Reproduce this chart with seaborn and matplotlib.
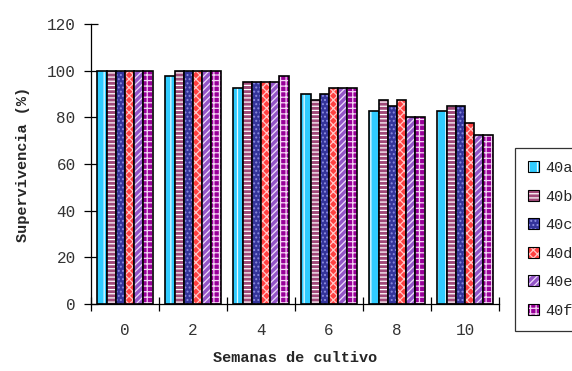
import matplotlib
matplotlib.use("Agg")
import matplotlib.pyplot as plt
import matplotlib.colors as mcolors
import seaborn as sns
import pandas as pd
import numpy as np

# Survival (%) per line across weeks of culture
weeks = [0, 2, 4, 6, 8, 10]
lines = ["40a", "40b", "40c", "40d", "40e", "40f"]
surv_40a = [100, 97.5, 92.5, 90, 82.5, 82.5]
surv_40b = [100, 100, 95, 87.5, 87.5, 85]
surv_40c = [100, 100, 95, 90, 85, 85]
surv_40d = [100, 100, 95, 92.5, 87.5, 77.5]
surv_40e = [100, 100, 95, 92.5, 80, 72.5]
surv_40f = [100, 100, 97.5, 92.5, 80, 72.5]

yticks = [0, 20, 40, 60, 80, 100, 120]

series = [surv_40a, surv_40b, surv_40c, surv_40d, surv_40e, surv_40f]
df = pd.DataFrame(
    [(w, ln, v) for ln, vals in zip(lines, series) for w, v in zip(weeks, vals)],
    columns=["week", "line", "value"],
)

# fill colour, hatch pattern, hatch colour per line
styles = {
    "40a": ("#30CCFF", "||", "#E8FAFF"),
    "40b": ("#A04878", "----", "#FFFFFF"),
    "40c": ("#34349A", "....", "#8C8CE0"),
    "40d": ("#FF4040", "xxxx", "#FFC8C8"),
    "40e": ("#9455C8", "/////", "#EEDDFA"),
    "40f": ("#990099", "+++", "#F4D4F4"),
}

sns.set_theme(style="white")
plt.rcParams["hatch.linewidth"] = 0.9
mono = ["Liberation Mono", "DejaVu Sans Mono"]

fig = plt.figure(figsize=(5.72, 3.71), dpi=100)
ax = fig.add_axes([91 / 572, 67 / 371, 408 / 572, 280 / 371])

sns.barplot(
    data=df, x="week", y="value", hue="line", hue_order=lines,
    palette=[styles[l][0] for l in lines], width=0.81, dodge=True,
    edgecolor="black", linewidth=1.2, saturation=1, ax=ax,
)

for ln, cont in zip(lines, ax.containers):
    face, hatch, hcol = styles[ln]
    for p in cont.patches:
        p.set_facecolor(face)
        p.set_edgecolor("black")
        p.set_hatch(hatch)
        p._hatch_color = mcolors.to_rgba(hcol)

ax.get_legend().remove()

ax.set_ylim(0, 120)
ax.set_xlim(-0.5, 5.5)
ax.set_yticks(yticks)
ax.set_yticklabels([str(t) for t in yticks], family=mono, fontsize=11.5, color="#333333")
ax.set_xticks(range(len(weeks)))
ax.set_xticklabels([str(w) for w in weeks], family=mono, fontsize=11.5, color="#333333")
ax.set_xticks(np.arange(-0.5, len(weeks), 1.0), minor=True)
ax.tick_params(axis="x", which="major", length=0, pad=14)
ax.tick_params(axis="x", which="minor", direction="inout", length=10, width=0.9, color="black", bottom=True)
ax.tick_params(axis="y", which="major", direction="inout", length=10, width=0.9, color="black", left=True, pad=6)

for s in ["top", "right"]:
    ax.spines[s].set_visible(False)
for s in ["left", "bottom"]:
    ax.spines[s].set_color("black")
    ax.spines[s].set_linewidth(0.9)

ax.set_xlabel("Semanas de cultivo", family=mono, fontweight="bold", fontsize=11, labelpad=9)
ax.set_ylabel("Supervivencia (%)", family=mono, fontweight="bold", fontsize=11, labelpad=12)

handles = [c.patches[0] for c in ax.containers]
leg = fig.legend(
    handles, lines, loc="upper left", bbox_to_anchor=(515 / 572, 1 - 148 / 371),
    prop={"family": mono, "size": 11}, frameon=True, fancybox=False,
    edgecolor="black", handlelength=0.7, handleheight=0.7, handletextpad=0.4,
    labelspacing=0.95, borderpad=0.85, borderaxespad=0,
)
leg.get_frame().set_linewidth(0.9)
for h in leg.legend_handles:
    h.set_linewidth(0.8)

fig.savefig("out.png", dpi=100, facecolor="white")
